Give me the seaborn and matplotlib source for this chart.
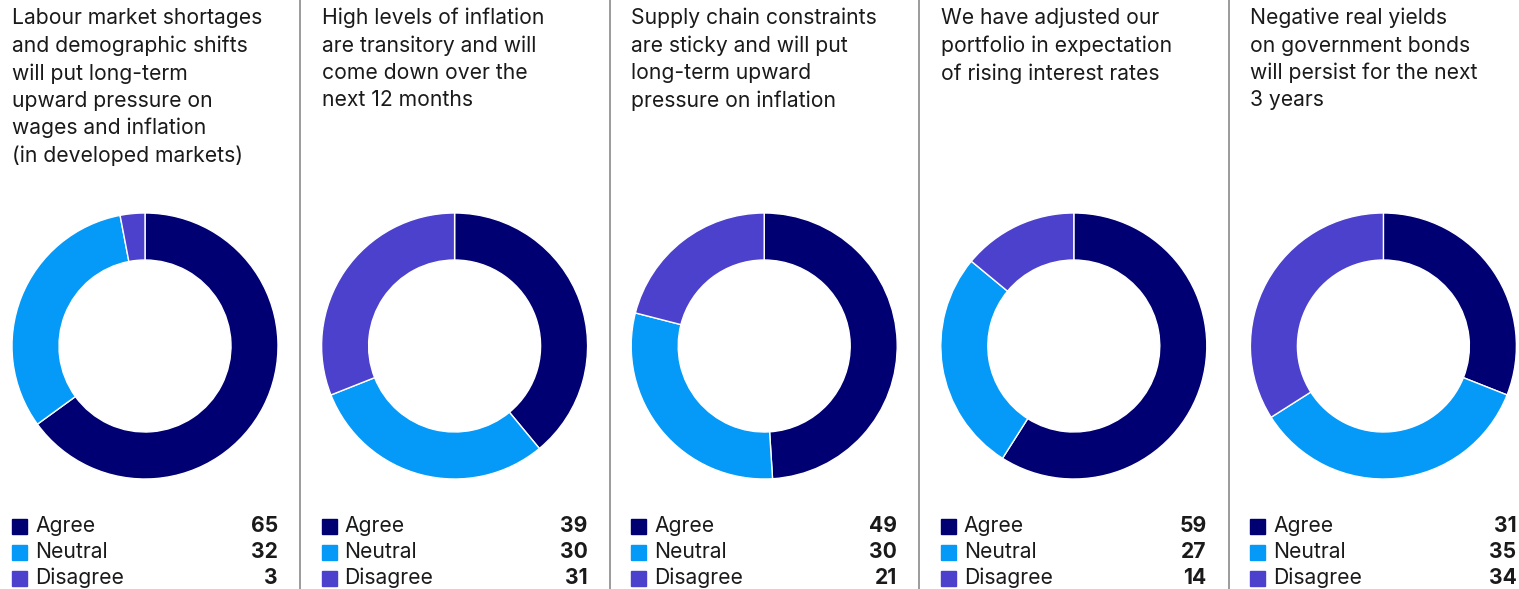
import matplotlib
matplotlib.use("Agg")
import matplotlib.pyplot as plt
import seaborn as sns
from matplotlib.patches import Rectangle
from matplotlib.lines import Line2D

titles = [
    "Labour market shortages\nand demographic shifts\nwill put long-term\nupward pressure on\nwages and inflation\n(in developed markets)",
    "High levels of inflation\nare transitory and will\ncome down over the\nnext 12 months",
    "Supply chain constraints\nare sticky and will put\nlong-term upward\npressure on inflation",
    "We have adjusted our\nportfolio in expectation\nof rising interest rates",
    "Negative real yields\non government bonds\nwill persist for the next\n3 years",
]
categories = ["Agree", "Neutral", "Disagree"]
agree = [65, 39, 49, 59, 31]
neutral = [32, 30, 30, 27, 35]
disagree = [3, 31, 21, 14, 34]

colors = ["#000073", "#0599F8", "#4B41CC"]

sns.set_theme(style="white")
plt.rcParams['font.family'] = ['Inter', 'DejaVu Sans']

W, H = 1519, 589
fig = plt.figure(figsize=(W / 100, H / 100), dpi=100)
fig.patch.set_facecolor("white")

def fx(px):
    return px / W

def fy(py):
    return 1 - py / H

step = 309.6
r_out = 133
r_in = 86
cy = 346
fs = 15.2

for i in range(5):
    x0 = 12 + i * step
    cx = 145 + i * step
    vals = [agree[i], neutral[i], disagree[i]]
    ax = fig.add_axes([fx(cx - r_out), fy(cy + r_out), 2 * r_out / W, 2 * r_out / H])
    ax.pie(vals, colors=colors, startangle=90, counterclock=False, radius=1,
           wedgeprops=dict(width=(r_out - r_in) / r_out, edgecolor="white", linewidth=1))
    ax.set_xlim(-1, 1)
    ax.set_ylim(-1, 1)
    ax.set_aspect("equal")
    ax.axis("off")

    fig.text(fx(x0), fy(8), titles[i], ha="left", va="top", fontsize=fs,
             color="#1a1a1a", linespacing=1.44)

    for j, (cat, v) in enumerate(zip(categories, vals)):
        ry = 526 + j * 26
        fig.patches.append(Rectangle((fx(x0), fy(ry + 7.5)), 15 / W, 15 / H,
                                     transform=fig.transFigure, color=colors[j]))
        fig.text(fx(x0 + 23), fy(ry), cat, ha="left", va="center", fontsize=fs,
                 color="#1a1a1a")
        fig.text(fx(x0 + 266), fy(ry), str(v), ha="right", va="center", fontsize=fs,
                 fontweight="bold", color="#1a1a1a")

    if i < 4:
        sx = 300 + i * step
        fig.lines.append(Line2D([fx(sx), fx(sx)], [0, 1], transform=fig.transFigure,
                                color="#8a8a8a", linewidth=1.2))

fig.savefig("out.png", dpi=100, facecolor="white")
